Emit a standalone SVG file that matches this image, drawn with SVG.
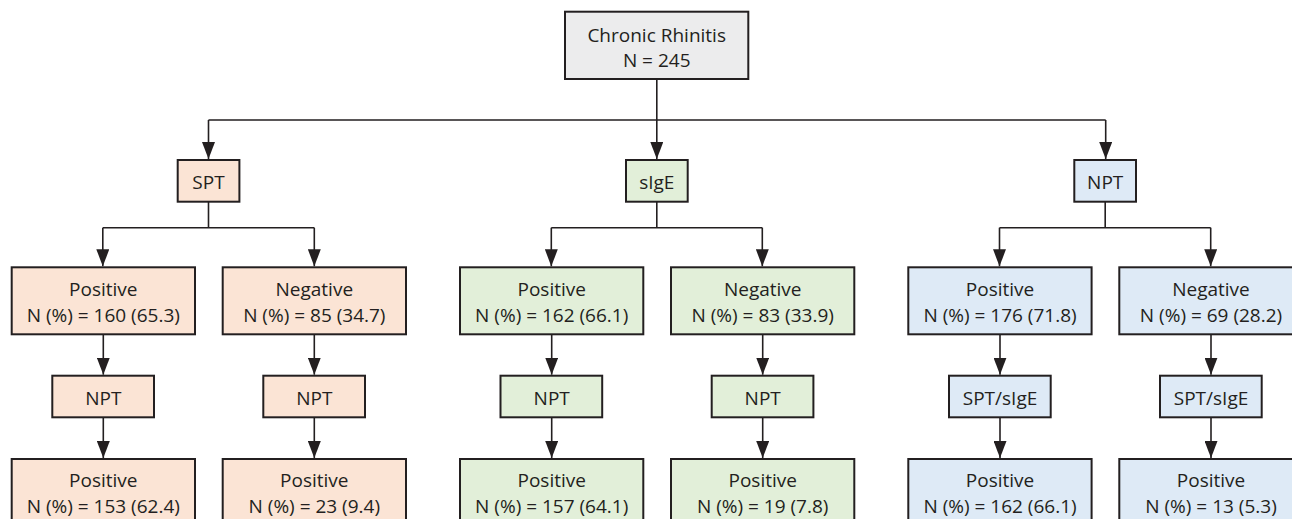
<svg xmlns="http://www.w3.org/2000/svg" width="1292" height="519" viewBox="0 0 1292 519">
<defs>
<marker id="arr" markerUnits="userSpaceOnUse" markerWidth="17" markerHeight="13" refX="17" refY="6.5" orient="auto" viewBox="0 0 17 13">
<path d="M0,0 L17,6.5 L0,13 Z" fill="#231f20"/>
</marker>
<style>
.box{stroke:#231f20;stroke-width:2}
.gray{fill:#ececed}
.peach{fill:#fbe4d5}
.green{fill:#e2efd9}
.blue{fill:#deeaf6}
.t{font-family:"Open Sans","Liberation Sans",sans-serif;font-size:19px;fill:#231f20;text-anchor:middle}
.c{fill:none;stroke:#231f20;stroke-width:1.6}
.a{marker-end:url(#arr)}
</style>
</defs>
<rect width="1292" height="519" fill="#ffffff"/>

<g id="connectors">
<path class="c" d="M656.8,79 V120 M208.5,120 H1105.7"/>
<path class="c a" d="M208.5,120 V159"/>
<path class="c a" d="M656.8,120 V159"/>
<path class="c a" d="M1105.7,120 V159"/>

<path class="c" d="M208.5,201.7 V227.7 M102.8,227.7 H314.3"/>
<path class="c a" d="M102.8,227.7 V266.3"/>
<path class="c a" d="M314.3,227.7 V266.3"/>
<path class="c" d="M656.8,201.7 V227.7 M551.3,227.7 H762.3"/>
<path class="c a" d="M551.3,227.7 V266.3"/>
<path class="c a" d="M762.3,227.7 V266.3"/>
<path class="c" d="M1105.2,201.7 V227.7 M999.5,227.7 H1210.7"/>
<path class="c a" d="M999.5,227.7 V266.3"/>
<path class="c a" d="M1210.7,227.7 V266.3"/>

<path class="c a" d="M103.3,334.3 V374.7"/>
<path class="c a" d="M103.3,417.3 V458"/>
<path class="c a" d="M314.3,334.3 V374.7"/>
<path class="c a" d="M314.3,417.3 V458"/>
<path class="c a" d="M551.7,334.3 V374.7"/>
<path class="c a" d="M551.7,417.3 V458"/>
<path class="c a" d="M762.7,334.3 V374.7"/>
<path class="c a" d="M762.7,417.3 V458"/>
<path class="c a" d="M1000,334.3 V374.7"/>
<path class="c a" d="M1000,417.3 V458"/>
<path class="c a" d="M1211,334.3 V374.7"/>
<path class="c a" d="M1211,417.3 V458"/>
</g>

<g id="root">
<rect class="box gray" x="565" y="11.7" width="183.3" height="67.3"/>
<text class="t" x="656.7" y="41.5">Chronic Rhinitis</text>
<text class="t" x="656.7" y="66.5">N = 245</text>
</g>

<g id="spt">
<rect class="box peach" x="177.7" y="160" width="61.7" height="41.7"/>
<text class="t" x="208.5" y="189.3">SPT</text>
</g>
<g id="sige">
<rect class="box green" x="626" y="160" width="61.7" height="41.7"/>
<text class="t" x="656.8" y="189.3">sIgE</text>
</g>
<g id="npt">
<rect class="box blue" x="1074.3" y="160" width="61.7" height="41.7"/>
<text class="t" x="1105.2" y="189.3">NPT</text>
</g>

<g id="spt-pos">
<rect class="box peach" x="11.7" y="267.3" width="183.3" height="67"/>
<text class="t" x="103.3" y="295.5">Positive</text>
<text class="t" x="103.3" y="322">N (%) = 160 (65.3)</text>
</g>
<g id="spt-neg">
<rect class="box peach" x="222.7" y="267.3" width="183.3" height="67"/>
<text class="t" x="314.3" y="295.5">Negative</text>
<text class="t" x="314.3" y="322">N (%) = 85 (34.7)</text>
</g>
<g id="sige-pos">
<rect class="box green" x="460" y="267.3" width="183.3" height="67"/>
<text class="t" x="551.7" y="295.5">Positive</text>
<text class="t" x="551.7" y="322">N (%) = 162 (66.1)</text>
</g>
<g id="sige-neg">
<rect class="box green" x="671" y="267.3" width="183.3" height="67"/>
<text class="t" x="762.7" y="295.5">Negative</text>
<text class="t" x="762.7" y="322">N (%) = 83 (33.9)</text>
</g>
<g id="npt-pos">
<rect class="box blue" x="908.3" y="267.3" width="183.3" height="67"/>
<text class="t" x="1000" y="295.5">Positive</text>
<text class="t" x="1000" y="322">N (%) = 176 (71.8)</text>
</g>
<g id="npt-neg">
<rect class="box blue" x="1119.3" y="267.3" width="183.3" height="67"/>
<text class="t" x="1211" y="295.5">Negative</text>
<text class="t" x="1211" y="322">N (%) = 69 (28.2)</text>
</g>

<g id="spt-pos-npt">
<rect class="box peach" x="52.3" y="375.7" width="101.7" height="41.6"/>
<text class="t" x="103.3" y="405">NPT</text>
</g>
<g id="spt-neg-npt">
<rect class="box peach" x="263.3" y="375.7" width="101.7" height="41.6"/>
<text class="t" x="314.3" y="405">NPT</text>
</g>
<g id="sige-pos-npt">
<rect class="box green" x="500.5" y="375.7" width="101.7" height="41.6"/>
<text class="t" x="551.7" y="405">NPT</text>
</g>
<g id="sige-neg-npt">
<rect class="box green" x="711.7" y="375.7" width="101.7" height="41.6"/>
<text class="t" x="762.7" y="405">NPT</text>
</g>
<g id="npt-pos-test">
<rect class="box blue" x="949" y="375.7" width="101.7" height="41.6"/>
<text class="t" x="1000" y="405">SPT/sIgE</text>
</g>
<g id="npt-neg-test">
<rect class="box blue" x="1160" y="375.7" width="101.7" height="41.6"/>
<text class="t" x="1211" y="405">SPT/sIgE</text>
</g>

<g id="spt-pos-res">
<rect class="box peach" x="11.7" y="459" width="183.3" height="67"/>
<text class="t" x="103.3" y="487">Positive</text>
<text class="t" x="103.3" y="513">N (%) = 153 (62.4)</text>
</g>
<g id="spt-neg-res">
<rect class="box peach" x="222.7" y="459" width="183.3" height="67"/>
<text class="t" x="314.3" y="487">Positive</text>
<text class="t" x="314.3" y="513">N (%) = 23 (9.4)</text>
</g>
<g id="sige-pos-res">
<rect class="box green" x="460" y="459" width="183.3" height="67"/>
<text class="t" x="551.7" y="487">Positive</text>
<text class="t" x="551.7" y="513">N (%) = 157 (64.1)</text>
</g>
<g id="sige-neg-res">
<rect class="box green" x="671" y="459" width="183.3" height="67"/>
<text class="t" x="762.7" y="487">Positive</text>
<text class="t" x="762.7" y="513">N (%) = 19 (7.8)</text>
</g>
<g id="npt-pos-res">
<rect class="box blue" x="908.3" y="459" width="183.3" height="67"/>
<text class="t" x="1000" y="487">Positive</text>
<text class="t" x="1000" y="513">N (%) = 162 (66.1)</text>
</g>
<g id="npt-neg-res">
<rect class="box blue" x="1119.3" y="459" width="183.3" height="67"/>
<text class="t" x="1211" y="487">Positive</text>
<text class="t" x="1211" y="513">N (%) = 13 (5.3)</text>
</g>
</svg>
